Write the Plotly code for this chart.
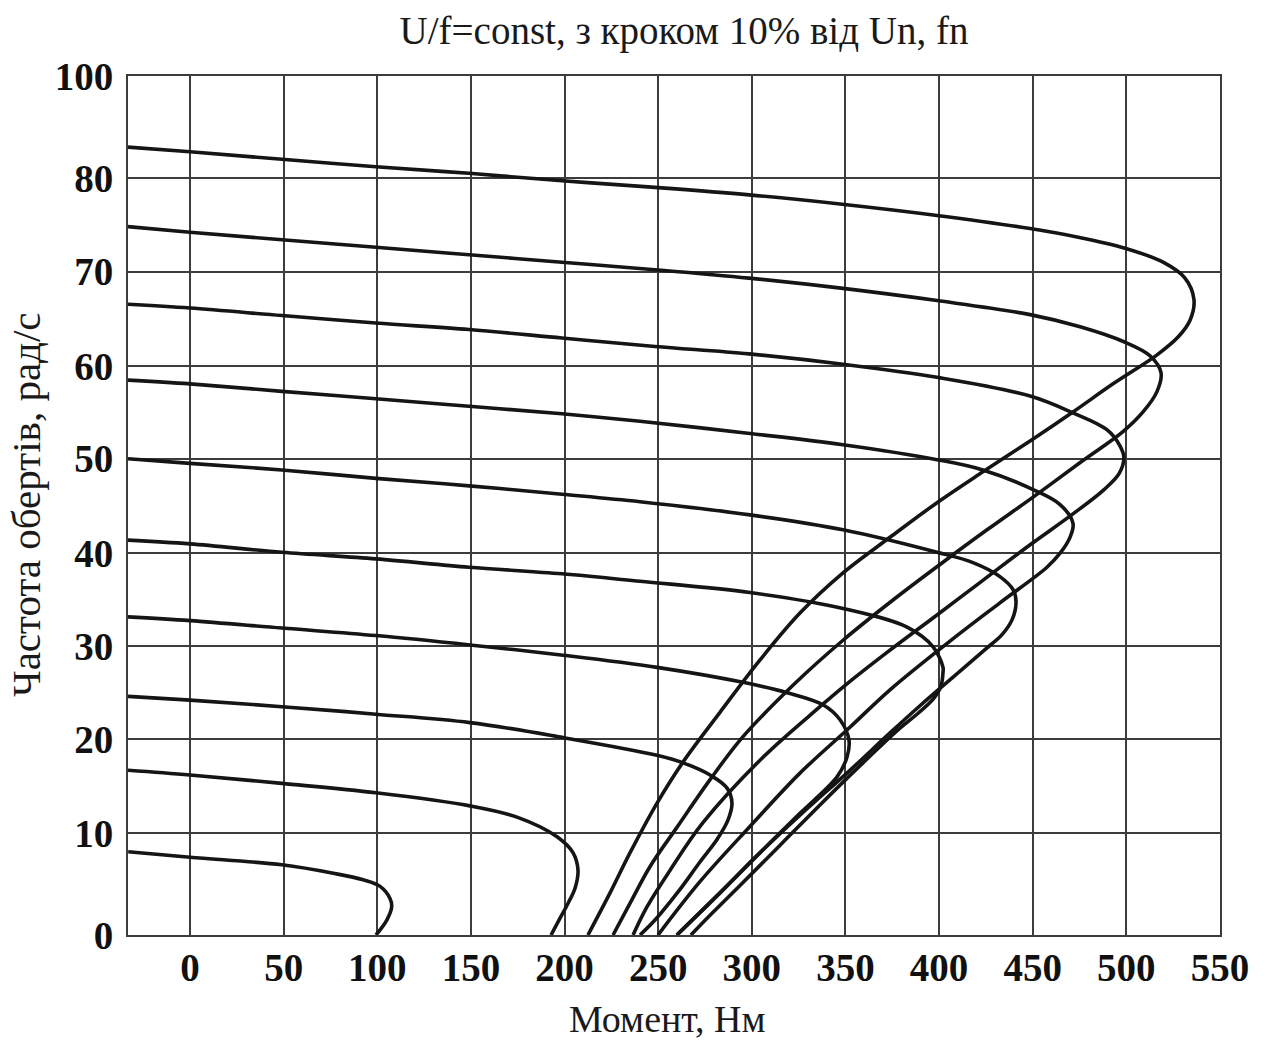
import plotly.graph_objects as go

# ---- axis tick labels ----
x_ticks = [0, 50, 100, 150, 200, 250, 300, 350, 400, 450, 500, 550]
y_tickvals = [0, 10.9, 20.9, 30.9, 40.8, 50.9, 60.8, 70.9, 80.9, 91.8]
y_ticktext = ["0", "10", "20", "30", "40", "50", "60", "70", "80", "100"]

# ---- curves (torque, speed) for U/f = 10% ... 100% ----
c1_x = [-33.0, 0, 49.0, 76.5, 92.5, 101.5, 106.8, 107.7, 105.1, 99.3]
c1_y = [8.9, 8.3, 7.5, 6.6, 5.9, 5.2, 3.9, 3.0, 1.6, 0]

c2_x = [-33.1, 0, 49.1, 99.3, 149.5, 174.6, 196.0, 204.5, 207.2, 205.6, 201.9, 197.6, 192.8]
c2_y = [17.6, 17.1, 16.2, 15.2, 13.8, 12.6, 10.5, 8.8, 6.9, 5.0, 3.4, 1.8, 0]

c3_x = [-33.1, 0, 49.1, 99.3, 149.5, 199.2, 249.4, 263.3, 277.7, 286.8, 289.4,
        287.3, 281.4, 272.3, 260.6, 248.3, 240.3]
c3_y = [25.5, 25.1, 24.4, 23.6, 22.7, 21.1, 19.2, 18.4, 17.1, 15.7, 14.1,
        12.3, 10.2, 7.8, 4.6, 1.6, 0]

c4_x = [-33.1, 0, 49.1, 99.3, 149.5, 199.2, 249.4, 295.3, 318.8, 338.0, 347.1, 351.9,
        350.8, 345.5, 325.7, 304.4, 283.0, 260.0]
c4_y = [34.0, 33.6, 32.8, 32.0, 31.0, 29.9, 28.6, 27.0, 25.9, 24.6, 23.0, 20.8,
        19.0, 16.9, 13.0, 8.8, 4.5, 0]

c5_x = [-33.1, 0, 49.1, 99.3, 149.0, 198.6, 240.3, 299.0, 348.7, 382.9, 396.8, 402.1, 402.1,
        401.0, 396.8, 388.8, 379.1, 357.8, 336.4, 315.1, 293.7, 277.7, 267.5]
c5_y = [42.2, 41.8, 40.9, 40.2, 39.3, 38.6, 37.8, 36.6, 34.9, 32.9, 30.8, 28.6, 28.1,
        26.6, 25.2, 23.7, 22.1, 18.1, 13.9, 9.6, 5.3, 2.1, 0]

c6_x = [-33.1, 0, 49.1, 99.3, 149.0, 198.6, 240.3, 299.0, 348.7, 398.9, 418.1, 432.5, 439.5, 441.1,
        439.0, 433.6, 424.5, 411.2, 389.8, 373.8, 352.4, 325.7, 304.4, 283.0, 260.0]
c6_y = [50.9, 50.4, 49.7, 48.8, 48.0, 47.1, 46.3, 44.9, 43.3, 40.9, 39.8, 38.3, 36.9, 35.6,
        33.7, 32.1, 30.5, 28.2, 24.5, 21.6, 17.6, 12.8, 8.8, 4.5, 0]

c7_x = [-33.1, 0, 49.1, 99.3, 149.0, 198.6, 240.3, 299.0, 348.7, 398.9, 423.4, 450.2, 464.6, 471.5,
        469.9, 464.6, 457.6, 432.5, 405.8, 373.8, 352.4, 325.7, 299.0, 272.3, 249.9]
c7_y = [59.3, 58.9, 58.1, 57.3, 56.5, 55.7, 54.9, 53.6, 52.4, 50.8, 49.7, 47.6, 46.0, 44.0,
        42.5, 40.8, 39.3, 35.5, 31.4, 26.2, 22.2, 17.3, 11.6, 5.7, 0]

c8_x = [-33.1, 0, 49.1, 99.3, 149.0, 198.6, 248.3, 298.5, 348.7, 398.9, 448.6, 471.5, 489.6, 496.5, 498.7,
        496.1, 488.1, 471.5, 448.6, 423.4, 398.9, 372.2, 348.7, 336.4, 306.0, 273.9, 256.3, 244.0, 236.6]
c8_y = [67.4, 67.0, 66.2, 65.4, 64.7, 63.8, 62.9, 62.1, 61.0, 59.6, 57.6, 55.8, 54.0, 52.3, 51.0,
        49.3, 47.6, 45.0, 41.7, 37.9, 34.2, 30.2, 26.5, 24.4, 19.0, 12.0, 6.9, 3.0, 0]

c9_x = [-33.1, 0, 49.1, 99.3, 149.0, 198.6, 248.3, 298.5, 348.7, 398.9, 448.6, 475.3, 498.7, 512.6, 518.5,
        516.4, 508.9, 498.2, 476.8, 450.2, 425.6, 400.5, 375.4, 348.7, 323.1, 295.3, 277.7, 260.0, 245.6, 235.0, 225.9]
c9_y = [75.7, 75.1, 74.3, 73.5, 72.7, 71.9, 71.1, 70.2, 69.1, 67.8, 66.3, 65.0, 63.4, 61.9, 60.1,
        58.1, 55.9, 53.8, 50.7, 46.8, 43.3, 39.6, 35.8, 31.5, 26.9, 21.2, 16.6, 11.5, 7.3, 3.4, 0]

c10_x = [-33.1, 0, 49.1, 99.3, 149.0, 198.6, 248.3, 298.5, 348.2, 398.9, 448.6, 473.6, 499.3, 519.6, 531.3, 536.1,
         534.0, 527.6, 516.4, 492.9, 471.5, 448.6, 423.4, 398.9, 373.8, 348.7, 325.7, 304.4, 283.0, 263.3, 249.4,
         235.0, 224.3, 212.5]
c10_y = [84.2, 83.7, 82.9, 82.1, 81.4, 80.6, 79.9, 79.1, 78.1, 76.9, 75.5, 74.6, 73.4, 71.9, 70.2, 67.9,
         65.7, 63.9, 62.0, 58.9, 55.9, 52.8, 49.5, 46.2, 42.5, 38.7, 34.4, 29.4, 23.8, 18.5, 14.1,
         8.8, 4.5, 0]

curves = [
    ("10%", c1_x, c1_y), ("20%", c2_x, c2_y), ("30%", c3_x, c3_y), ("40%", c4_x, c4_y),
    ("50%", c5_x, c5_y), ("60%", c6_x, c6_y), ("70%", c7_x, c7_y), ("80%", c8_x, c8_y),
    ("90%", c9_x, c9_y), ("100%", c10_x, c10_y),
]

fig = go.Figure()
for name, xs, ys in curves:
    fig.add_trace(go.Scatter(
        x=xs, y=ys, mode="lines", name=name,
        line=dict(color="#151515", width=3.6, shape="spline", smoothing=1.0),
        showlegend=False,
    ))

grid_col = "#3c3c3c"
serif = "Liberation Serif, Times New Roman, serif"

fig.update_layout(
    width=1265, height=1043,
    margin=dict(l=128, r=45, t=76, b=108),
    paper_bgcolor="white", plot_bgcolor="white",
    title=dict(text="U/f=const, з кроком 10% від Un, fn",
               font=dict(family=serif, size=39, color="#1a1a1a"),
               x=684 / 1265, xanchor="center", y=1 - 30 / 1043, yanchor="middle"),
    xaxis=dict(range=[-33.1, 550], tickvals=x_ticks, showgrid=True,
               gridcolor=grid_col, gridwidth=1.6, zeroline=False,
               showline=True, mirror=True, linecolor=grid_col, linewidth=2,
               ticks="", ticklabelstandoff=-3,
               tickfont=dict(family=serif, size=39, color="#111", weight="bold")),
    yaxis=dict(range=[0, 91.8], tickvals=y_tickvals, ticktext=y_ticktext, showgrid=True,
               gridcolor=grid_col, gridwidth=1.6, zeroline=False,
               showline=True, mirror=True, linecolor=grid_col, linewidth=2,
               ticks="", ticklabelstandoff=5,
               tickfont=dict(family=serif, size=39, color="#111", weight="bold")),
    annotations=[
        dict(text="Момент, Нм", xref="paper", yref="paper",
             x=(667 - 128) / 1092, y=(935 - 1019) / 859, xanchor="center", yanchor="middle",
             showarrow=False, font=dict(family=serif, size=38, color="#1a1a1a")),
        dict(text="Частота обертів, рад/с", xref="paper", yref="paper",
             x=(26 - 128) / 1092, y=(935 - 505) / 859, xanchor="center", yanchor="middle",
             textangle=-90, showarrow=False, font=dict(family=serif, size=41, color="#1a1a1a")),
    ],
)

fig.write_html("out.html")
